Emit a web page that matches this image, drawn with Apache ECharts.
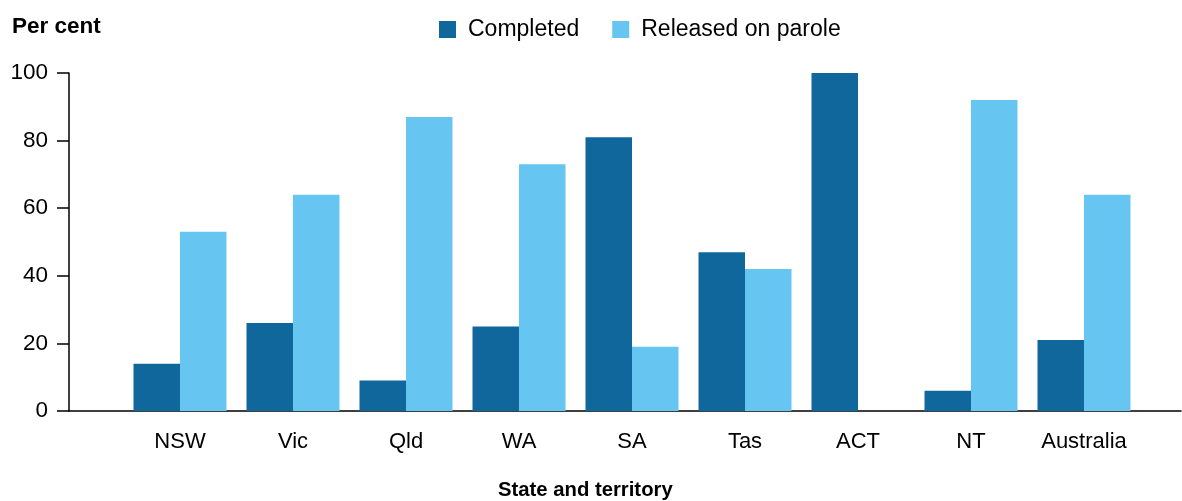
<!DOCTYPE html>
<html>
<head>
<meta charset="utf-8">
<script src="https://cdn.jsdelivr.net/npm/echarts@6/dist/echarts.min.js"></script>
<style>html,body{margin:0;padding:0;background:#fff;}#chart{width:1182px;height:501px;}</style>
</head>
<body>
<div id="chart"></div>
<script>
const categories = ['NSW', 'Vic', 'Qld', 'WA', 'SA', 'Tas', 'ACT', 'NT', 'Australia'];
const completed = [14, 26, 9, 25, 81, 47, 100, 6, 21];
const parole = [53, 64, 87, 73, 19, 42, 0, 92, 64];
const seriesNames = ['Completed', 'Released on parole'];
const yMin = 0, yMax = 100, yStep = 20;

const FONT = '"Liberation Sans", Arial, sans-serif';
const chart = echarts.init(document.getElementById('chart'), null, {renderer: 'canvas'});
chart.setOption({
  animation: false,
  backgroundColor: '#fff',
  textStyle: {fontFamily: FONT, color: '#000'},
  title: [
    {text: 'Per cent', left: 7, top: 10, textStyle: {fontFamily: FONT, fontSize: 22.5, fontWeight: 'bold', color: '#000'}},
    {text: 'State and territory', left: 493, top: 475, textStyle: {fontFamily: FONT, fontSize: 20.3, fontWeight: 'bold', color: '#000'}}
  ],
  legend: {
    left: 439, top: 18, padding: 0,
    icon: 'rect', itemWidth: 17, itemHeight: 17, itemGap: 33,
    data: seriesNames,
    textStyle: {fontFamily: FONT, fontSize: 23, color: '#000', padding: [0, 0, 0, 7]}
  },
  grid: [
    {left: 123.5, right: 41.5, top: 73, bottom: 90},
    {left: 69, right: 1, top: 73, bottom: 90}
  ],
  xAxis: [
    {type: 'category', gridIndex: 0, data: categories,
     axisLine: {show: false}, axisTick: {show: false},
     axisLabel: {fontFamily: FONT, fontSize: 22, color: '#000', margin: 20}},
    {type: 'value', gridIndex: 1, min: 0, max: 1,
     axisLine: {show: true, lineStyle: {color: '#000', width: 1.5}},
     axisTick: {show: false}, axisLabel: {show: false}, splitLine: {show: false}}
  ],
  yAxis: [
    {type: 'value', gridIndex: 0, min: yMin, max: yMax, interval: yStep, offset: 54.5,
     axisLine: {show: true, lineStyle: {color: '#000', width: 1.5}},
     axisTick: {show: true, length: 12, lineStyle: {color: '#000', width: 1.5}},
     splitLine: {show: false},
     axisLabel: {fontFamily: FONT, fontSize: 22.5, color: '#000', margin: 21}},
    {type: 'value', gridIndex: 1, min: yMin, max: yMax, show: false}
  ],
  series: [
    {name: seriesNames[0], type: 'bar', data: completed, xAxisIndex: 0, yAxisIndex: 0,
     barGap: '0%', barCategoryGap: '17.7%', itemStyle: {color: '#10679b'}},
    {name: seriesNames[1], type: 'bar', data: parole, xAxisIndex: 0, yAxisIndex: 0,
     barGap: '0%', barCategoryGap: '17.7%', itemStyle: {color: '#67c6f1'}}
  ]
});
</script>
</body>
</html>
